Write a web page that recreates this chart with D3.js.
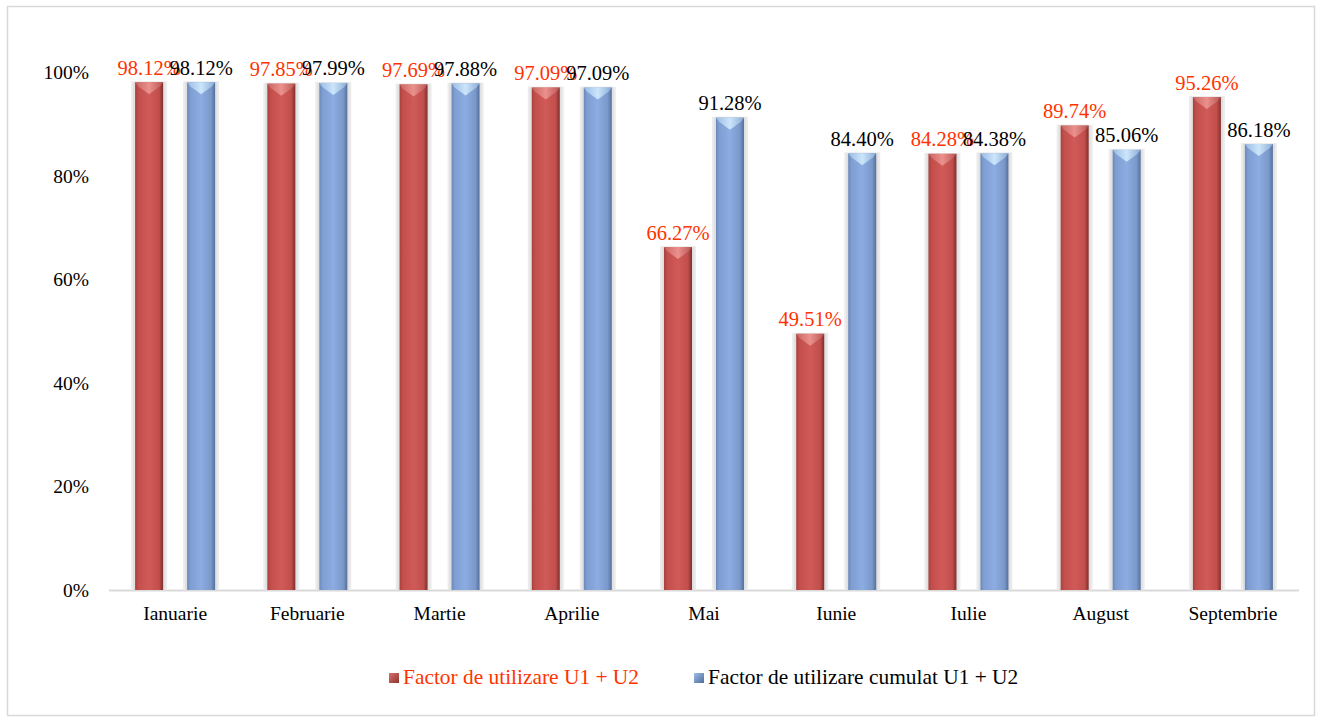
<!DOCTYPE html>
<html><head><meta charset="utf-8">
<script src="https://cdn.jsdelivr.net/npm/d3@7"></script>
<style>body{margin:0;background:#fff}svg{display:block}svg text{font-family:"Liberation Serif","Times New Roman","DejaVu Serif",serif}</style>
</head><body>
<svg id="c" width="1321" height="722"></svg>
<script>
const categories = ["Ianuarie","Februarie","Martie","Aprilie","Mai","Iunie","Iulie","August","Septembrie"];
const seriesNames = ["Factor de utilizare U1 + U2","Factor de utilizare cumulat U1 + U2"];
const factorValues = [98.12,97.85,97.69,97.09,66.27,49.51,84.28,89.74,95.26];
const cumulatValues = [98.12,97.99,97.88,97.09,91.28,84.40,84.38,85.06,86.18];
const yTicks = [0,20,40,60,80,100];

(function(){
const svg = d3.select("#c");
const font = '"Liberation Serif","Times New Roman","DejaVu Serif",serif';
const pLeft = 109, pRight = 1299, pTop = 72.5, pBottom = 590;

svg.append("rect").attr("x",7.5).attr("y",6.5).attr("width",1307).attr("height",709)
  .attr("fill","#fff").attr("stroke","#d9d9d9").attr("stroke-width",1.5);

const defs = svg.append("defs");
function hgrad(id, stops){
  const g = defs.append("linearGradient").attr("id",id).attr("x1","0").attr("x2","1").attr("y1","0").attr("y2","0");
  stops.forEach(s=>g.append("stop").attr("offset",s[0]).attr("stop-color",s[1]));
}
hgrad("gRed",[[0,"#a8403d"],[0.12,"#c34f4c"],[0.5,"#d05a57"],[0.85,"#c24f4c"],[1,"#7e2f2d"]]);
hgrad("gBlue",[[0,"#6a88b8"],[0.12,"#7f9fd3"],[0.5,"#8cace2"],[0.85,"#7a98c9"],[1,"#56709c"]]);
hgrad("gRedTop",[[0,"#c96a67"],[0.5,"#f09a96"],[1,"#b85855"]]);
hgrad("gBlueTop",[[0,"#9fc0e6"],[0.5,"#d6efff"],[1,"#8fb0d8"]]);
const lr = defs.append("linearGradient").attr("id","lRed").attr("x1","0").attr("x2","1").attr("y1","0").attr("y2","1");
lr.append("stop").attr("offset",0).attr("stop-color","#d9706c");
lr.append("stop").attr("offset",1).attr("stop-color","#8e3431");
const lb = defs.append("linearGradient").attr("id","lBlue").attr("x1","0").attr("x2","1").attr("y1","0").attr("y2","1");
lb.append("stop").attr("offset",0).attr("stop-color","#9fbde8");
lb.append("stop").attr("offset",1).attr("stop-color","#4f6d9c");

const x0 = d3.scaleBand().domain(categories).range([pLeft,pRight]).paddingInner(0).paddingOuter(0);
const bw = x0.bandwidth();
const x1 = d3.scaleBand().domain(seriesNames).range([bw/2-40,bw/2+40]).paddingInner(0.4615).paddingOuter(0);
const y = d3.scaleLinear().domain([0,100]).range([pBottom,pTop]);

const yAxis = d3.axisLeft(y).tickValues(yTicks).tickFormat(d=>d+"%").tickSize(0).tickPadding(0);
const ga = svg.append("g").attr("transform","translate(89,0)").call(yAxis);
ga.select(".domain").remove();
ga.selectAll("text").style("font-family",font).style("font-size","19.5px").attr("fill","#000");

svg.append("line").attr("x1",pLeft).attr("x2",pRight).attr("y1",pBottom+0.5).attr("y2",pBottom+0.5)
  .attr("stroke","#d9d9d9").attr("stroke-width",2);

const xAxis = d3.axisBottom(x0).tickSize(0).tickPadding(0);
const gx = svg.append("g").attr("transform",`translate(0,${pBottom+16})`).call(xAxis);
gx.select(".domain").remove();
gx.selectAll("text").style("font-family",font).style("font-size","19.5px").attr("fill","#000");

const data = categories.map((c,i)=>({cat:c, vals:[
  {s:seriesNames[0], v:factorValues[i], fill:"url(#gRed)", cap:"url(#gRedTop)", lc:"#ff3300"},
  {s:seriesNames[1], v:cumulatValues[i], fill:"url(#gBlue)", cap:"url(#gBlueTop)", lc:"#000"}]}));

const groups = svg.append("g").selectAll("g").data(data).join("g")
  .attr("transform",d=>`translate(${x0(d.cat)},0)`);
const bars = groups.selectAll("g.bar").data(d=>d.vals).join("g").attr("class","bar");
const w = x1.bandwidth();
bars.append("rect").attr("x",d=>x1(d.s)-4).attr("width",w+8)
  .attr("y",d=>y(d.v)-1).attr("height",d=>pBottom-y(d.v)+1).attr("fill","#ececec");
bars.append("rect").attr("x",d=>x1(d.s)-2).attr("width",w+4)
  .attr("y",d=>y(d.v)).attr("height",d=>pBottom-y(d.v)).attr("fill","#e0e0e0");
bars.append("rect").attr("x",d=>x1(d.s)).attr("width",w)
  .attr("y",d=>y(d.v)).attr("height",d=>pBottom-y(d.v)).attr("fill",d=>d.fill);
bars.append("path").attr("d",d=>{
  const x=x1(d.s), t=y(d.v);
  return `M${x},${t}L${x+w},${t}L${x+w-3},${t+4}L${x+w/2},${t+12}L${x+3},${t+4}Z`;
}).attr("fill",d=>d.cap).attr("opacity",0.85);
bars.append("text").attr("x",d=>x1(d.s)+w/2).attr("y",d=>y(d.v)-7.5)
  .attr("text-anchor","middle").style("font-family",font).style("font-size","20.5px")
  .attr("fill",d=>d.lc).text(d=>d.v.toFixed(2)+"%");

const legend = [
  {name:seriesNames[0], x:389, fill:"url(#lRed)", c:"#ff3300"},
  {name:seriesNames[1], x:694, fill:"url(#lBlue)", c:"#000"}];
const lg = svg.append("g").selectAll("g").data(legend).join("g");
lg.append("rect").attr("x",d=>d.x).attr("y",673).attr("width",10).attr("height",10).attr("fill",d=>d.fill);
lg.append("text").attr("x",d=>d.x+14).attr("y",683.5).style("font-family",font).style("font-size","21.4px")
  .attr("fill",d=>d.c).text(d=>d.name);
})();
</script>
</body></html>
